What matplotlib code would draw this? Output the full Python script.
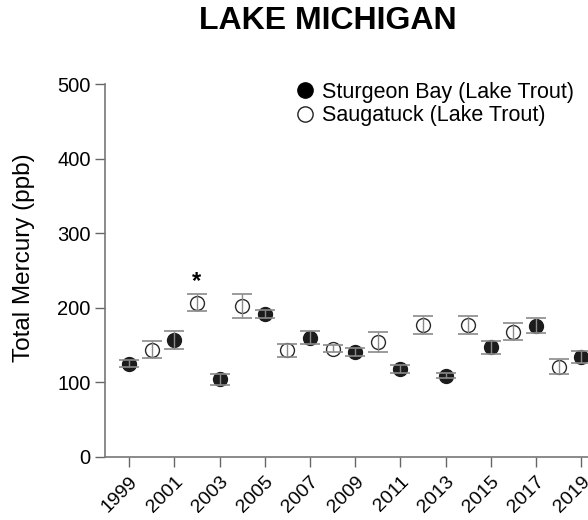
import matplotlib
matplotlib.use("Agg")
import matplotlib.pyplot as plt
from matplotlib.lines import Line2D

plt.rcParams['font.family'] = ['Liberation Sans', 'DejaVu Sans']

sturgeon_years = [1999, 2001, 2003, 2005, 2007, 2009, 2011, 2013, 2015, 2017, 2019]
sturgeon_vals = [125, 157, 104, 192, 160, 141, 118, 109, 147, 176, 134]
sturgeon_err = [5, 12, 7, 5.5, 9, 5, 5, 3.5, 9, 10, 7.5]

saugatuck_years = [2000, 2002, 2004, 2006, 2008, 2010, 2012, 2014, 2016, 2018]
saugatuck_vals = [144, 207, 202, 143, 145, 154, 177, 177, 168, 121]
saugatuck_err = [11, 11.5, 16, 8.5, 4.5, 13, 12, 12.5, 11, 10]

star_year = 2002
xticks = list(range(1999, 2020, 2))
yticks = [0, 100, 200, 300, 400, 500]

W, H = 588, 520
fig = plt.figure(figsize=(W / 100, H / 100), dpi=100)

px_per_year = 22.6
x0 = 1997.93
x1 = 2020.5
left_px = 105
right_px = left_px + (x1 - x0) * px_per_year
bottom_px = 457
top_px = 84
ax = fig.add_axes([left_px / W, 1 - bottom_px / H, (right_px - left_px) / W, (bottom_px - top_px) / H])
ax.set_xlim(x0, x1)
ax.set_ylim(0, 500)

ms = 10.0
ecol = '#8a8a8a'
ax.plot(sturgeon_years, sturgeon_vals, 'o', ms=ms, mfc='#1c1c1c', mec='#1c1c1c', zorder=2, clip_on=False)
ax.plot(saugatuck_years, saugatuck_vals, 'o', ms=ms, mfc='white', mec='#2a2a2a', mew=1.0, zorder=2, clip_on=False)
ax.errorbar(sturgeon_years, sturgeon_vals, yerr=sturgeon_err, fmt='none', ecolor=ecol,
            elinewidth=1.0, capsize=7.2, capthick=1.2, zorder=3, clip_on=False)
ax.errorbar(saugatuck_years, saugatuck_vals, yerr=saugatuck_err, fmt='none', ecolor=ecol,
            elinewidth=1.0, capsize=7.2, capthick=1.2, zorder=3, clip_on=False)

i = saugatuck_years.index(star_year)
ax.text(star_year, saugatuck_vals[i] + saugatuck_err[i] + 1, '*', ha='center', va='bottom',
        fontsize=17, fontweight='bold')

ax.set_xticks(xticks)
ax.set_xticklabels([str(x) for x in xticks], rotation=45, ha='right', rotation_mode='anchor', fontsize=14)
ax.set_yticks(yticks)
ax.set_yticklabels([str(y) for y in yticks], fontsize=14.5)
ax.tick_params(axis='both', direction='out', length=7.2, width=1.0, color='#666666')
ax.tick_params(axis='x', pad=4.5)
ax.tick_params(axis='y', pad=3)
for s in ['top', 'right']:
    ax.spines[s].set_visible(False)
for s in ['left', 'bottom']:
    ax.spines[s].set_color('#777777')
    ax.spines[s].set_linewidth(1.2)

fig.text(24 / W, 1 - 258 / H, 'Total Mercury (ppb)', rotation=90, ha='center', va='center', fontsize=17.5)

handles = [
    Line2D([], [], marker='o', ls='none', ms=11, mfc='black', mec='black'),
    Line2D([], [], marker='o', ls='none', ms=11, mfc='white', mec='#222222', mew=1.0),
]
leg = fig.legend(handles, ['Sturgeon Bay (Lake Trout)', 'Saugatuck (Lake Trout)'],
                 loc='upper left', bbox_to_anchor=(296 / W, 1 - 82 / H), frameon=False,
                 fontsize=15.5, handletextpad=0.4, handlelength=0.8, labelspacing=0.1, borderpad=0,
                 borderaxespad=0)

fig.text(328 / W, 1 - 21 / H, 'LAKE MICHIGAN', ha='center', va='center', fontsize=23, fontweight='bold')

fig.savefig('out.png', dpi=100)
